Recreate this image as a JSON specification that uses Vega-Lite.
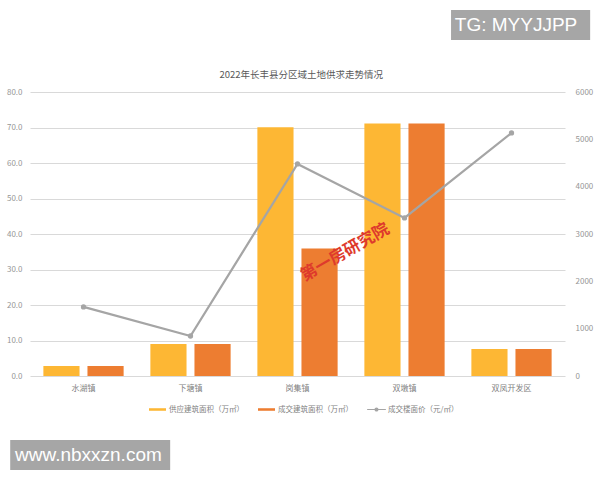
{
  "$schema": "https://vega.github.io/schema/vega-lite/v6.json",
  "width": 535,
  "height": 284,
  "autosize": {"type": "none"},
  "padding": {"left": 30, "top": 92, "right": 35, "bottom": 104},
  "background": "white",
  "config": {
    "font": "Noto Sans CJK SC",
    "view": {"stroke": null},
    "axis": {"labelFont": "Noto Sans CJK SC", "labelFontSize": 8, "labelColor": "#969696"},
    "legend": {"labelFont": "Noto Sans CJK SC", "labelFontSize": 7.5, "labelColor": "#7f7f7f"}
  },
  "datasets": {
    "bars": [
      {"town": "水湖镇", "series": "供应建筑面积（万㎡）", "value": 2.8},
      {"town": "水湖镇", "series": "成交建筑面积（万㎡）", "value": 2.8},
      {"town": "下塘镇", "series": "供应建筑面积（万㎡）", "value": 9.0},
      {"town": "下塘镇", "series": "成交建筑面积（万㎡）", "value": 9.0},
      {"town": "岗集镇", "series": "供应建筑面积（万㎡）", "value": 70.1},
      {"town": "岗集镇", "series": "成交建筑面积（万㎡）", "value": 35.9},
      {"town": "双墩镇", "series": "供应建筑面积（万㎡）", "value": 71.1},
      {"town": "双墩镇", "series": "成交建筑面积（万㎡）", "value": 71.1},
      {"town": "双凤开发区", "series": "供应建筑面积（万㎡）", "value": 7.6},
      {"town": "双凤开发区", "series": "成交建筑面积（万㎡）", "value": 7.6}
    ],
    "line": [
      {"town": "水湖镇", "price": 1460},
      {"town": "下塘镇", "price": 845},
      {"town": "岗集镇", "price": 4480},
      {"town": "双墩镇", "price": 3340},
      {"town": "双凤开发区", "price": 5135}
    ],
    "boxes": [
      {"label": "TG: MYYJJPP", "x1": 0.787, "x2": 1.047, "y1": 1.183, "y2": 1.289, "tx": 0.794, "ty": 1.236},
      {"label": "www.nbxxzn.com", "x1": -0.037, "x2": 0.262, "y1": -0.331, "y2": -0.225, "tx": -0.028, "ty": -0.278}
    ],
    "stamp": [{"label": "第一房研究院", "tx": 0.589, "ty": 0.435}],
    "heading": [{"label": "2022年长丰县分区域土地供求走势情况", "tx": 0.507, "ty": 1.06}]
  },
  "layer": [
    {
      "data": {"name": "bars"},
      "mark": {"type": "bar"},
      "encoding": {
        "x": {"field": "town", "type": "nominal", "sort": ["水湖镇", "下塘镇", "岗集镇", "双墩镇", "双凤开发区"],
              "scale": {"paddingInner": 0.25, "paddingOuter": 0.125},
              "axis": {"title": null, "labelAngle": 0, "domain": false, "ticks": false, "labelPadding": 8, "labelColor": "#7f7f7f"}},
        "xOffset": {"field": "series", "type": "nominal", "sort": ["供应建筑面积（万㎡）", "成交建筑面积（万㎡）"], "scale": {"paddingInner": 0.18}},
        "y": {"field": "value", "type": "quantitative", "scale": {"domain": [0, 80], "nice": false},
              "axis": {"title": null, "values": [0, 10, 20, 30, 40, 50, 60, 70, 80], "format": ".1f", "domain": false, "ticks": false, "gridColor": "#d9d9d9", "labelPadding": 8, "labelOverlap": false}},
        "color": {"field": "series", "type": "nominal",
                  "scale": {"domain": ["供应建筑面积（万㎡）", "成交建筑面积（万㎡）", "成交楼面价（元/㎡）"], "range": ["#FDB734", "#ED7D31", "#A5A5A5"]},
                  "legend": {"title": null, "orient": "none", "direction": "horizontal", "legendX": 119, "legendY": 309, "columnPadding": 14, "labelOffset": 3,
                             "encode": {"symbols": {"update": {
                               "shape": {"signal": "datum.value === '成交楼面价（元/㎡）' ? 'M-1.1,-0.07H1.1V0.07H-1.1Z M-0.24,0A0.24,0.24,0,1,1,0.24,0A0.24,0.24,0,1,1,-0.24,0Z' : 'M-1,-0.15H1V0.15H-1Z'"},
                               "size": {"value": 289},
                               "fill": {"scale": "color", "field": "value"},
                               "stroke": {"value": "transparent"},
                               "strokeWidth": {"value": 0},
                               "opacity": {"value": 1}
                             }}}}}
      }
    },
    {
      "data": {"name": "line"},
      "mark": {"type": "line", "color": "#A5A5A5", "strokeWidth": 2.25, "point": {"filled": true, "size": 28, "color": "#A5A5A5"}},
      "encoding": {
        "x": {"field": "town", "type": "nominal", "sort": ["水湖镇", "下塘镇", "岗集镇", "双墩镇", "双凤开发区"],
              "scale": {"paddingInner": 0.25, "paddingOuter": 0.125}, "axis": null},
        "y": {"field": "price", "type": "quantitative", "scale": {"domain": [0, 6000], "nice": false},
              "axis": {"title": null, "orient": "right", "values": [0, 1000, 2000, 3000, 4000, 5000, 6000], "format": "d", "grid": false, "domain": false, "ticks": false, "labelPadding": 10}},
        "color": {"datum": "成交楼面价（元/㎡）"}
      }
    },
    {
      "layer": [
        {
          "data": {"name": "boxes"},
          "mark": {"type": "rect", "color": "#A6A6A6"},
          "encoding": {
            "x": {"field": "x1", "type": "quantitative", "scale": {"domain": [0, 1], "nice": false, "zero": false}, "axis": null},
            "x2": {"field": "x2"},
            "y": {"field": "y1", "type": "quantitative", "scale": {"domain": [0, 1], "nice": false, "zero": false}, "axis": null},
            "y2": {"field": "y2"}
          }
        },
        {
          "data": {"name": "boxes"},
          "mark": {"type": "text", "align": "left", "baseline": "middle", "fontSize": 19, "font": "Liberation Sans", "color": "white"},
          "encoding": {
            "x": {"field": "tx", "type": "quantitative"},
            "y": {"field": "ty", "type": "quantitative"},
            "text": {"field": "label"}
          }
        },
        {
          "data": {"name": "stamp"},
          "mark": {"type": "text", "align": "center", "baseline": "middle", "angle": -30, "fontSize": 16.5, "fontWeight": "bold", "color": "#DE3A2C"},
          "encoding": {
            "x": {"field": "tx", "type": "quantitative"},
            "y": {"field": "ty", "type": "quantitative"},
            "text": {"field": "label"}
          }
        },
        {
          "data": {"name": "heading"},
          "mark": {"type": "text", "align": "center", "baseline": "middle", "fontSize": 9.5, "color": "#595959"},
          "encoding": {
            "x": {"field": "tx", "type": "quantitative"},
            "y": {"field": "ty", "type": "quantitative"},
            "text": {"field": "label"}
          }
        }
      ]
    }
  ],
  "resolve": {"scale": {"x": "independent", "y": "independent"}}
}
